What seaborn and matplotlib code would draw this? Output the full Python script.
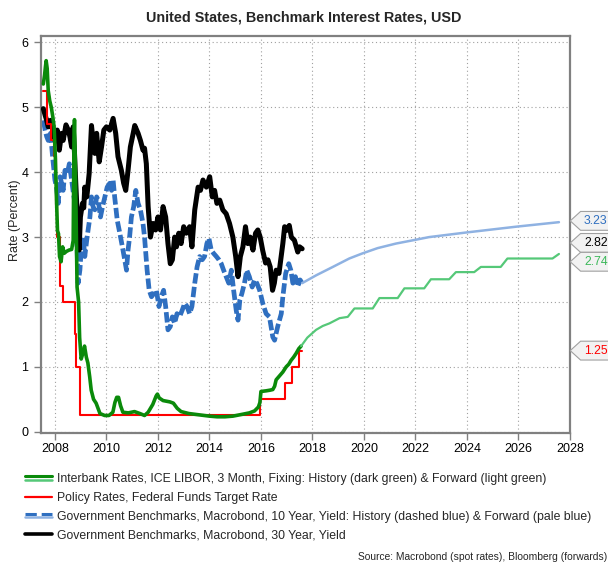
import numpy as np
import pandas as pd
import matplotlib
matplotlib.use("Agg")
import matplotlib.pyplot as plt
import seaborn as sns
from matplotlib.lines import Line2D
from matplotlib.legend_handler import HandlerBase
from matplotlib.path import Path
from matplotlib import transforms as mtrans

# ---------------- data ----------------
fed_years = [2007.55, 2007.71, 2007.83, 2007.95, 2008.06, 2008.08, 2008.21, 2008.33,
             2008.77, 2008.83, 2008.96, 2015.96, 2016.95, 2017.21, 2017.46, 2017.58]
fed_rate = [5.25, 4.75, 4.50, 4.25, 3.50, 3.00, 2.25, 2.00,
            1.50, 1.00, 0.25, 0.50, 0.75, 1.00, 1.25, 1.25]

libor_years = [2007.55, 2007.60, 2007.63, 2007.66, 2007.70, 2007.74, 2007.80, 2007.86, 2007.92, 2007.97,
               2008.02, 2008.06, 2008.10, 2008.14, 2008.18, 2008.24, 2008.30, 2008.36, 2008.45, 2008.55,
               2008.65, 2008.71, 2008.74, 2008.76, 2008.80, 2008.86, 2008.92, 2008.96, 2009.02, 2009.08,
               2009.15, 2009.22, 2009.28, 2009.35, 2009.41, 2009.50, 2009.60, 2009.75, 2009.93, 2010.10,
               2010.25, 2010.33, 2010.40, 2010.47, 2010.55, 2010.64, 2010.85, 2011.09, 2011.30, 2011.48,
               2011.62, 2011.80, 2011.93, 2011.98, 2012.05, 2012.20, 2012.46, 2012.60, 2012.75, 2012.90,
               2013.20, 2013.60, 2014.00, 2014.30, 2014.60, 2014.91, 2015.30, 2015.55, 2015.75, 2015.90,
               2015.96, 2016.00, 2016.20, 2016.35, 2016.46, 2016.53, 2016.59, 2016.72, 2016.85, 2016.98,
               2017.08, 2017.17, 2017.27, 2017.37, 2017.47, 2017.56]
libor_rate = [5.36, 5.50, 5.62, 5.72, 5.60, 5.26, 5.10, 5.00, 4.85, 4.70,
              4.20, 3.60, 3.10, 3.05, 2.70, 2.62, 2.85, 2.75, 2.78, 2.80,
              2.81, 2.95, 4.50, 4.81, 4.00, 2.23, 2.00, 1.45, 1.12, 1.20,
              1.32, 1.15, 1.06, 0.85, 0.64, 0.50, 0.44, 0.28, 0.25, 0.25,
              0.30, 0.45, 0.53, 0.53, 0.40, 0.30, 0.29, 0.31, 0.28, 0.25,
              0.30, 0.42, 0.55, 0.58, 0.52, 0.48, 0.46, 0.44, 0.36, 0.31,
              0.28, 0.26, 0.24, 0.23, 0.23, 0.24, 0.27, 0.29, 0.32, 0.38,
              0.45, 0.62, 0.63, 0.64, 0.65, 0.70, 0.80, 0.86, 0.92, 1.00,
              1.04, 1.10, 1.15, 1.21, 1.28, 1.32]

libor_fwd_years = [2017.56, 2017.80, 2018.14, 2018.40, 2018.66, 2019.05, 2019.37, 2019.63, 2020.34, 2020.60,
                   2021.31, 2021.57, 2022.34, 2022.60, 2023.31, 2023.57, 2024.28, 2024.54, 2025.31, 2025.57,
                   2027.32, 2027.57]
libor_fwd_rate = [1.32, 1.45, 1.57, 1.63, 1.67, 1.75, 1.77, 1.90, 1.90, 2.06,
                  2.06, 2.21, 2.21, 2.35, 2.35, 2.46, 2.46, 2.54, 2.54, 2.67,
                  2.67, 2.74]

y10_years = [2007.55, 2007.62, 2007.68, 2007.74, 2007.83, 2007.91, 2008.00, 2008.06, 2008.13, 2008.20,
             2008.26, 2008.32, 2008.39, 2008.48, 2008.56, 2008.65, 2008.72, 2008.78, 2008.84, 2008.90,
             2008.97, 2009.03, 2009.10, 2009.16, 2009.25, 2009.36, 2009.42, 2009.48, 2009.55, 2009.62,
             2009.68, 2009.77, 2009.85, 2009.94, 2010.03, 2010.13, 2010.20, 2010.26, 2010.32, 2010.42,
             2010.52, 2010.62, 2010.71, 2010.78, 2010.84, 2010.90, 2010.97, 2011.06, 2011.14, 2011.23,
             2011.32, 2011.42, 2011.48, 2011.58, 2011.66, 2011.75, 2011.84, 2011.94, 2012.04, 2012.13,
             2012.22, 2012.30, 2012.39, 2012.48, 2012.56, 2012.65, 2012.74, 2012.84, 2012.94, 2013.04,
             2013.13, 2013.23, 2013.32, 2013.43, 2013.52, 2013.62, 2013.72, 2013.81, 2013.90, 2013.98,
             2014.07, 2014.16, 2014.27, 2014.37, 2014.46, 2014.55, 2014.65, 2014.75, 2014.85, 2014.94,
             2015.04, 2015.11, 2015.18, 2015.26, 2015.36, 2015.45, 2015.55, 2015.66, 2015.75, 2015.84,
             2015.95, 2016.07, 2016.20, 2016.33, 2016.46, 2016.53, 2016.65, 2016.79, 2016.85, 2016.96,
             2017.08, 2017.16, 2017.24, 2017.34, 2017.43, 2017.52, 2017.60]
y10_rate = [4.80, 4.65, 4.55, 4.49, 4.60, 4.24, 3.88, 3.77, 3.52, 3.93,
            3.83, 3.72, 4.03, 3.98, 4.13, 3.88, 3.67, 3.52, 3.11, 2.29,
            2.49, 2.85, 3.00, 2.70, 3.00, 3.31, 3.62, 3.47, 3.42, 3.62,
            3.57, 3.31, 3.47, 3.62, 3.77, 3.83, 3.72, 3.88, 3.62, 3.26,
            3.06, 2.85, 2.65, 2.49, 2.80, 3.00, 3.31, 3.47, 3.72, 3.52,
            3.42, 3.21, 3.00, 2.49, 2.18, 2.08, 2.13, 2.18, 1.93, 2.08,
            2.18, 1.93, 1.57, 1.62, 1.77, 1.67, 1.82, 1.77, 1.87, 1.98,
            1.93, 1.82, 1.93, 2.29, 2.54, 2.70, 2.65, 2.70, 2.90, 2.98,
            2.80, 2.75, 2.70, 2.65, 2.59, 2.49, 2.39, 2.29, 2.49, 2.18,
            1.87, 1.72, 2.03, 2.13, 2.29, 2.49, 2.39, 2.23, 2.34, 2.29,
            2.18, 1.98, 1.82, 1.77, 1.46, 1.41, 1.62, 1.82, 2.08, 2.44,
            2.59, 2.49, 2.29, 2.39, 2.24, 2.34, 2.29]

y10_fwd_years = [2017.60, 2018.14, 2018.79, 2019.43, 2019.95, 2020.53, 2021.24, 2022.02, 2022.53, 2023.95,
                 2025.90, 2027.57]
y10_fwd_rate = [2.29, 2.41, 2.54, 2.67, 2.75, 2.83, 2.90, 2.96, 3.00, 3.07,
                3.16, 3.23]

y30_years = [2007.55, 2007.62, 2007.68, 2007.74, 2007.83, 2007.91, 2008.00, 2008.09, 2008.17, 2008.26,
             2008.32, 2008.43, 2008.52, 2008.58, 2008.65, 2008.71, 2008.76, 2008.81, 2008.86, 2008.90,
             2008.94, 2008.99, 2009.07, 2009.12, 2009.16, 2009.24, 2009.33, 2009.42, 2009.48, 2009.55,
             2009.62, 2009.72, 2009.81, 2009.90, 2010.00, 2010.13, 2010.26, 2010.36, 2010.45, 2010.58,
             2010.67, 2010.75, 2010.84, 2010.93, 2011.04, 2011.10, 2011.23, 2011.32, 2011.42, 2011.48,
             2011.55, 2011.62, 2011.71, 2011.81, 2011.91, 2012.00, 2012.10, 2012.20, 2012.30, 2012.39,
             2012.48, 2012.56, 2012.65, 2012.72, 2012.81, 2012.90, 2013.00, 2013.10, 2013.23, 2013.32,
             2013.43, 2013.56, 2013.65, 2013.75, 2013.88, 2014.01, 2014.11, 2014.20, 2014.29, 2014.40,
             2014.52, 2014.65, 2014.78, 2014.91, 2015.02, 2015.11, 2015.20, 2015.30, 2015.40, 2015.49,
             2015.58, 2015.69, 2015.79, 2015.88, 2015.97, 2016.07, 2016.18, 2016.27, 2016.36, 2016.45,
             2016.52, 2016.59, 2016.70, 2016.85, 2016.92, 2016.98, 2017.10, 2017.18, 2017.30, 2017.43,
             2017.50, 2017.60]
y30_rate = [4.98, 4.88, 4.80, 4.70, 4.80, 4.65, 4.49, 4.65, 4.34, 4.60,
            4.49, 4.73, 4.65, 4.55, 4.39, 4.70, 4.30, 3.83, 3.40, 3.00,
            2.80, 3.31, 3.52, 3.45, 3.77, 3.62, 3.98, 4.72, 4.49, 4.29,
            4.60, 4.16, 4.39, 4.65, 4.70, 4.65, 4.83, 4.60, 4.24, 4.03,
            3.83, 3.72, 4.03, 4.39, 4.60, 4.72, 4.60, 4.49, 4.34, 4.37,
            4.13, 3.47, 3.00, 3.21, 3.11, 3.31, 3.11, 3.47, 3.31, 2.90,
            2.59, 2.65, 3.00, 2.85, 3.06, 2.90, 3.16, 3.06, 3.16, 2.85,
            3.42, 3.77, 3.72, 3.88, 3.77, 3.93, 3.62, 3.72, 3.52, 3.57,
            3.42, 3.36, 3.21, 3.00, 2.70, 2.39, 2.70, 2.85, 3.16, 2.90,
            3.00, 2.80, 3.06, 3.11, 3.00, 2.79, 2.60, 2.65, 2.54, 2.18,
            2.29, 2.49, 2.44, 2.90, 3.16, 3.10, 3.18, 3.00, 2.95, 2.77,
            2.85, 2.82]

end_labels = ["3.23", "2.82", "2.74", "1.25"]
end_label_pos = [3.25, 2.91, 2.62, 1.25]

x_ticks = [2008, 2010, 2012, 2014, 2016, 2018, 2020, 2022, 2024, 2026, 2028]
y_ticks = [0, 1, 2, 3, 4, 5, 6]

legend_labels = [
    "Interbank Rates, ICE LIBOR, 3 Month, Fixing: History (dark green) & Forward (light green)",
    "Policy Rates, Federal Funds Target Rate",
    "Government Benchmarks, Macrobond, 10 Year, Yield: History (dashed blue) & Forward (pale blue)",
    "Government Benchmarks, Macrobond, 30 Year, Yield",
]

# ---------------- style ----------------
sns.set_style("white")
plt.rcParams["font.family"] = ["Liberation Sans", "DejaVu Sans"]

C_DGREEN = "#0a8a0a"
C_LGREEN = "#55c878"
C_RED = "#ff0000"
C_BLUE = "#2f6fc0"
C_PBLUE = "#8fb2e2"
C_BLACK = "#000000"

fig = plt.figure(figsize=(6.08, 5.63), dpi=100)
ax = fig.add_axes([41 / 608, 1 - 433 / 563, 529 / 608, 397 / 563])

def draw(xs, ys, **kw):
    sns.lineplot(x=np.asarray(xs), y=np.asarray(ys), ax=ax, estimator=None, sort=False, **kw)

draw(y10_years, y10_rate, color=C_BLUE, linewidth=3.4, linestyle=(0, (2.2, 0.7)), zorder=2)
draw(y10_fwd_years, y10_fwd_rate, color=C_PBLUE, linewidth=1.8, zorder=2)
draw(y30_years, y30_rate, color=C_BLACK, linewidth=3.6, zorder=3)
draw(fed_years, fed_rate, color=C_RED, linewidth=1.5, drawstyle="steps-post", zorder=4)
draw(libor_years, libor_rate, color=C_DGREEN, linewidth=2.6, zorder=5)
draw(libor_fwd_years, libor_fwd_rate, color=C_LGREEN, linewidth=1.6, zorder=5)

ax.set_xlim(2007.46, 2028.0)
ax.set_ylim(-0.02, 6.1)
ax.set_xticks(x_ticks)
ax.set_xticklabels([str(t) for t in x_ticks])
ax.set_yticks(y_ticks)
ax.set_yticklabels([str(t) for t in y_ticks])
ax.tick_params(axis="both", direction="out", length=5, width=1, color="#808080",
               labelsize=9, labelcolor="#000000", pad=2, bottom=True, left=True)
ax.tick_params(axis="y", pad=4)
ax.grid(True, linestyle=(0, (1, 2.5)), color="#a0a0a0", linewidth=0.8)
for s in ax.spines.values():
    s.set_visible(True)
    s.set_color("#808080")
    s.set_linewidth(1.6)
ax.set_xlabel("")
ax.set_ylabel("")

fig.text(0.5, 1 - 17 / 563, "United States, Benchmark Interest Rates, USD",
         ha="center", va="center", fontsize=10.4, fontweight="bold")
fig.text(15 / 608, 1 - 220 / 563, "Rate (Percent)", rotation=90,
         ha="center", va="center", fontsize=9)
fig.text(607 / 608, 1 - 557 / 563, "Source: Macrobond (spot rates), Bloomberg (forwards)",
         ha="right", va="center", fontsize=7.4)

# ---------------- end-of-line value tags ----------------
def tag_box(x0, y0, width, height, mutation_size):
    pad = 0.28 * mutation_size
    x0 -= pad
    y0 -= pad
    w = width + 2 * pad
    h = height + 2 * pad
    tip = 0.55 * h
    verts = [(x0 - tip, y0 + h / 2), (x0, y0 + h), (x0 + w, y0 + h), (x0 + w, y0),
             (x0, y0), (x0 - tip, y0 + h / 2)]
    return Path(verts, closed=True)

trans = mtrans.blended_transform_factory(ax.transAxes, ax.transData)
tag_colors = [C_BLUE, C_BLACK, "#3cb85a", C_RED]
for lab, yv, col in zip(end_labels, end_label_pos, tag_colors):
    ax.text((584 - 41) / 529, yv, lab, transform=trans, ha="left", va="center",
            fontsize=8.8, color=col, clip_on=False,
            bbox=dict(boxstyle=tag_box, fc="#f2f2f2", ec="#a0a0a0", lw=0.8))

# ---------------- legend ----------------
class StackHandler(HandlerBase):
    def create_artists(self, legend, orig_handle, xdescent, ydescent, width, height, fontsize, trans):
        arts = []
        n = len(orig_handle)
        xdata = np.array([-xdescent, width - xdescent])
        base = (height - ydescent) / 2
        for i, h in enumerate(orig_handle):
            off = 0.0 if n == 1 else (1.3 if i == 0 else -1.3)
            ln = Line2D(xdata, [base + off, base + off], color=h.get_color(),
                        linewidth=h.get_linewidth(), linestyle=h.get_linestyle())
            ln.set_transform(trans)
            arts.append(ln)
        return arts

h_green = (Line2D([], [], color=C_DGREEN, lw=2.2), Line2D([], [], color=C_LGREEN, lw=1.8))
h_red = (Line2D([], [], color=C_RED, lw=1.6),)
h_blue = (Line2D([], [], color=C_BLUE, lw=2.2, linestyle=(0, (3, 1))), Line2D([], [], color=C_PBLUE, lw=1.8))
h_black = (Line2D([], [], color=C_BLACK, lw=2.6),)

fig.legend([h_green, h_red, h_blue, h_black], legend_labels,
           handler_map={tuple: StackHandler()},
           loc="upper left", bbox_to_anchor=(25 / 608, 1 - 473 / 563),
           frameon=False, fontsize=8.8, handlelength=2.2, handletextpad=0.41,
           labelspacing=0.56, borderpad=0, borderaxespad=0)

fig.savefig("out.png", dpi=100)
